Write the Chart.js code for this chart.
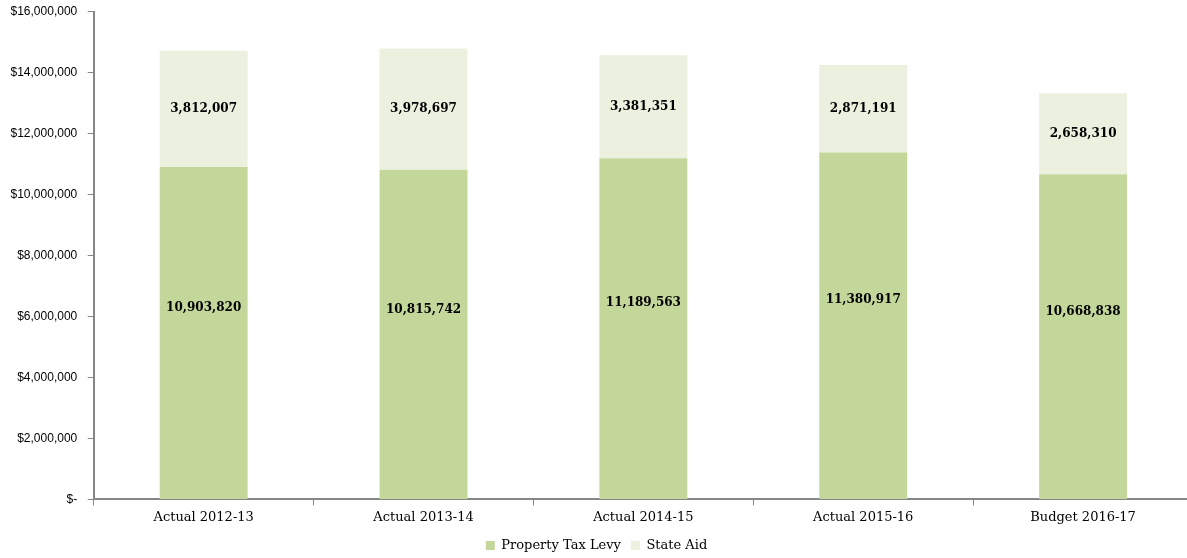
<!DOCTYPE html>
<html>
<head>
<meta charset="utf-8">
<script src="https://cdn.jsdelivr.net/npm/chart.js@4.4.1/dist/chart.umd.min.js"></script>
<style>
  html, body { margin: 0; padding: 0; background: #fff; }
  #wrap { width: 1187px; height: 558px; overflow: hidden; }
  #inner { width: 1210px; height: 564px; margin-top: -6px; }
</style>
</head>
<body>
<div id="wrap"><div id="inner"><canvas id="levyChart"></canvas></div></div>
<script>
const categories = ["Actual 2012-13", "Actual 2013-14", "Actual 2014-15", "Actual 2015-16", "Budget 2016-17"];
const propertyTaxLevy = [10903820, 10815742, 11189563, 11380917, 10668838];
const stateAid = [3812007, 3978697, 3381351, 2871191, 2658310];

const serif = "'DejaVu Serif', 'Liberation Serif', serif";

// writes the value inside each bar segment (levy labels sit a bit above the middle, like the original)
const segmentLabels = {
  id: "segmentLabels",
  afterDatasetsDraw(chart) {
    const ctx = chart.ctx;
    ctx.save();
    ctx.font = "bold 12px " + serif;
    ctx.fillStyle = "#000";
    ctx.textAlign = "center";
    ctx.textBaseline = "middle";
    chart.data.datasets.forEach((ds, i) => {
      const meta = chart.getDatasetMeta(i);
      const frac = i === 0 ? 0.575 : 0.5;
      meta.data.forEach((bar, j) => {
        const y = bar.base + (bar.y - bar.base) * frac;
        ctx.fillText(ds.data[j].toLocaleString("en-US"), bar.x, y);
      });
    });
    ctx.restore();
  }
};

new Chart(document.getElementById("levyChart"), {
  type: "bar",
  data: {
    labels: categories,
    datasets: [
      {
        label: "Property Tax Levy",
        data: propertyTaxLevy,
        backgroundColor: "#C4D79B",
        categoryPercentage: 1,
        barPercentage: 0.4
      },
      {
        label: "State Aid",
        data: stateAid,
        backgroundColor: "#EBF1DE",
        categoryPercentage: 1,
        barPercentage: 0.4
      }
    ]
  },
  options: {
    responsive: true,
    maintainAspectRatio: false,
    animation: false,
    layout: { padding: { top: -6, right: 17, left: 0, bottom: -4 } },
    plugins: {
      legend: {
        position: "bottom",
        labels: {
          boxWidth: 9,
          boxHeight: 9,
          padding: 10,
          color: "#000",
          font: { family: serif, size: 13 }
        }
      },
      tooltip: { enabled: false }
    },
    scales: {
      x: {
        stacked: true,
        offset: true,
        grid: {
          offset: true,
          drawOnChartArea: false,
          drawTicks: true,
          tickLength: 6,
          color: "#868686"
        },
        border: { color: "#868686", width: 2 },
        ticks: {
          color: "#000",
          padding: 4,
          font: { family: serif, size: 13 }
        }
      },
      y: {
        stacked: true,
        min: 0,
        max: 16000000,
        grid: {
          drawOnChartArea: false,
          drawTicks: true,
          tickLength: 6,
          color: "#868686"
        },
        border: { color: "#868686", width: 2 },
        ticks: {
          stepSize: 2000000,
          color: "#000",
          padding: 10.5,
          font: { family: "'Liberation Sans', Arial, sans-serif", size: 12 },
          callback: v => v === 0 ? "$-" : "$" + v.toLocaleString("en-US")
        }
      }
    }
  },
  plugins: [segmentLabels]
});
</script>
</body>
</html>
